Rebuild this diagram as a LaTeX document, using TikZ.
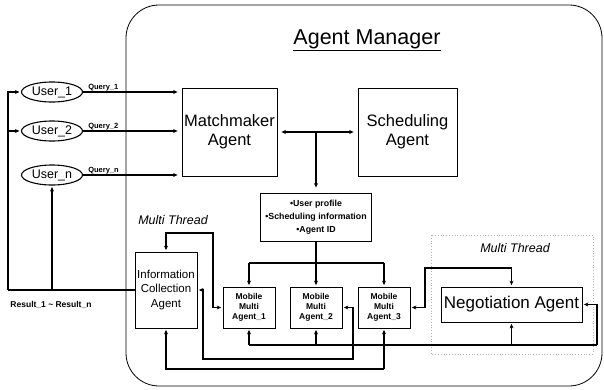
\documentclass[tikz,border=0pt]{standalone}
\usepackage{fontspec}
\setmainfont{Liberation Sans}
\usetikzlibrary{arrows.meta,shapes.geometric}
\begin{document}
\begin{tikzpicture}[x=1pt,y=-1pt,
  box/.style={draw, line width=0.8pt, inner sep=1pt, align=center},
  conn/.style={line width=1.1pt},
  arr/.style={-{Stealth[length=4.5pt,width=4pt]}, shorten >=1.5pt},
  barr/.style={{Stealth[length=4.5pt,width=4pt]}-{Stealth[length=4.5pt,width=4pt]}, shorten <=1.5pt, shorten >=1.5pt},
  user/.style={draw, ellipse, line width=1.1pt, minimum width=61pt, minimum height=20pt, inner sep=0pt, font=\fontsize{12.5}{14}\selectfont},
  qlab/.style={font=\bfseries\fontsize{7.5}{9}\selectfont, anchor=south west, inner sep=1pt},
  mma/.style={box, minimum width=52pt, minimum height=41pt, font=\bfseries\fontsize{8.5}{10}\selectfont},
  thread/.style={font=\itshape\fontsize{12.5}{14}\selectfont}
]
\useasboundingbox (0,0) rectangle (604,389);
\fill[white] (0,0) rectangle (604,389);

% frame and group
\draw[line width=0.8pt, rounded corners=33pt] (126,5) rectangle (602,386);
\draw[gray!60, dotted, line width=0.8pt] (431,235) rectangle (593,354);

\node[font=\fontsize{21.5}{24}\selectfont] (title) at (367,40) {\underline{Agent Manager}};

% users
\node[user] (u1) at (52,92) {User\_1};
\node[user] (u2) at (52,131) {User\_2};
\node[user] (un) at (52,175) {User\_n};

% agents
\node[box, minimum width=95pt, minimum height=88pt, font=\fontsize{16.5}{19}\selectfont] (mm) at (229.5,132) {Matchmaker\\Agent};
\node[box, minimum width=99pt, minimum height=88pt, font=\fontsize{16.5}{19}\selectfont] (sa) at (407.5,132) {Scheduling\\Agent};
\node[box, minimum width=111pt, minimum height=48pt, font=\bfseries\fontsize{8.8}{13}\selectfont] (info) at (316,217) {•User profile\\•Scheduling information\\•Agent ID};
\node[box, minimum width=62pt, minimum height=76pt, font=\fontsize{11.5}{14.5}\selectfont] (ica) at (166,290) {Information\\Collection\\Agent};
\node[mma] (m1) at (249,307.5) {Mobile\\Multi\\Agent\_1};
\node[mma] (m2) at (316,307.5) {Mobile\\Multi\\Agent\_2};
\node[mma] (m3) at (384,307.5) {Mobile\\Multi\\Agent\_3};
\node[box, minimum width=141pt, minimum height=35pt, font=\fontsize{17}{20}\selectfont] (neg) at (511.5,304.5) {Negotiation Agent};

\node[thread] (mt1) at (173,220) {Multi Thread};
\node[thread] (mt2) at (515,248) {Multi Thread};
\node[font=\bfseries\fontsize{8.5}{10}\selectfont] (res) at (51,305) {Result\_1 \textasciitilde{} Result\_n};

% queries
\draw[conn, arr, shorten >=4pt] (u1.east) -- (u1.east -| mm.west);
\draw[conn, arr, shorten >=4pt] (u2.east) -- (u2.east -| mm.west);
\draw[conn, arr, shorten >=4pt] (un.east) -- (un.east -| mm.west);
\node[qlab] (q1) at ([xshift=4pt]u1.east) {Query\_1};
\node[qlab] (q2) at ([xshift=4pt]u2.east) {Query\_2};
\node[qlab] (qn) at ([xshift=4pt]un.east) {Query\_n};

% matchmaker <-> scheduling, down to info
\draw[conn, barr, shorten <=4pt, shorten >=4pt] (mm.east) -- (sa.west);
\coordinate (tj) at (info.north |- mm.east);
\draw[conn, arr, shorten >=5pt] (tj) -- (info.north);

% info to mobile agents
\coordinate (br) at (316,263);
\draw[conn] (br -| m1.north) -- (br -| m3.north);
\draw[conn, arr] (info.south) -- (m2.north);
\draw[conn, arr] (br -| m1.north) -- (m1.north);
\draw[conn, arr] (br -| m3.north) -- (m3.north);

% ICA <-> MMA1
\coordinate (c1) at (213,233);
\draw[conn, barr] (ica.north) |- (c1) |- (m1.west);

% ICA <-> MMA2
\coordinate (c2a) at (203,359);
\coordinate (c2b) at (353,359);
\draw[conn, barr] (ica.east) -| (c2a) -- (c2b) |- (m2.east);

% bus 1
\coordinate (b1r) at (597,345);
\draw[conn] (m1.south |- b1r) -- (b1r);
\draw[conn, arr] (b1r) |- (neg.east);
\foreach \n in {m1,m2,m3,neg} {
  \draw[conn, arr] (\n.south |- b1r) -- (\n.south);
}

% bus 2
\coordinate (b2r) at (384,369);
\draw[conn] (b2r) -- (b2r |- b1r);
\draw[conn, arr] (b2r) -| (ica.south);

% MMA3 <-> Negotiation
\coordinate (c3) at (425,268);
\draw[conn, barr] (m3.east) -| (c3) -| (neg.north);

% results back to users
\coordinate (lb) at (8,0);
\draw[conn] (ica.west) -- (ica.west -| lb);
\draw[conn, arr] (ica.west -| lb) |- (u1.west);
\draw[conn, arr] (u2.west -| lb) -- (u2.west);
\draw[conn, arr] (ica.west -| un.south) -- (un.south);
\end{tikzpicture}
\end{document}
